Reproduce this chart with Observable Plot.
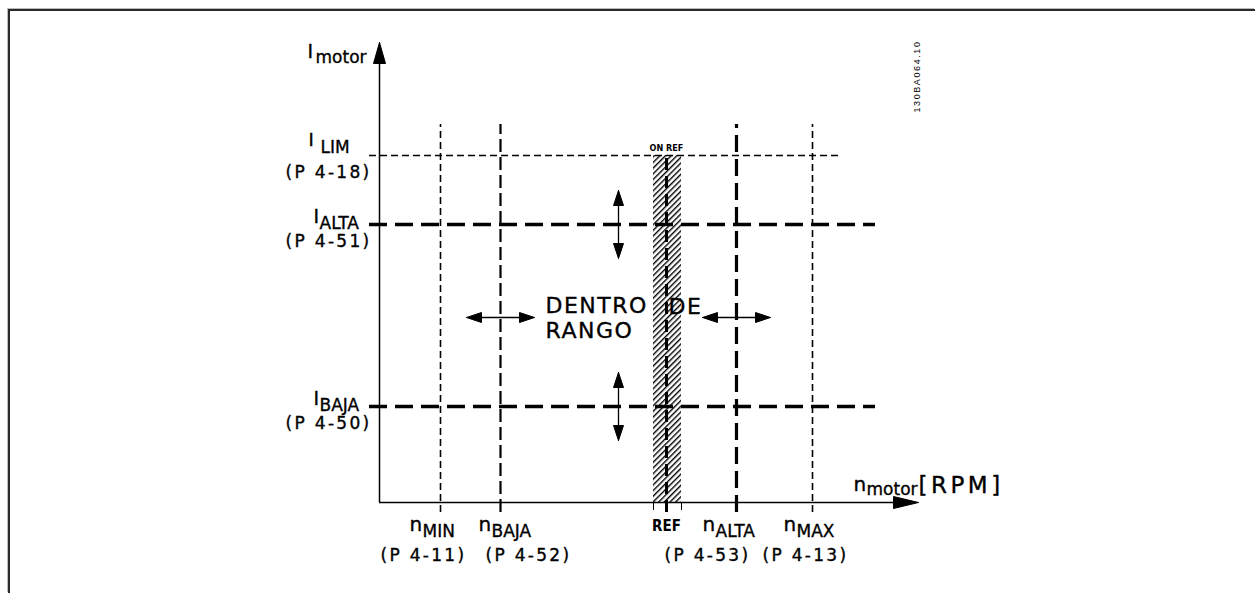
<!DOCTYPE html>
<html><head><meta charset="utf-8">
<script src="https://cdn.jsdelivr.net/npm/d3@7"></script>
<script src="https://cdn.jsdelivr.net/npm/@observablehq/plot@0.6"></script>
<style>
html,body{margin:0;padding:0;background:#fff;}
#wrap{position:relative;width:1255px;height:593px;overflow:hidden;background:#fff;}
#border{position:absolute;left:8px;top:9px;right:0;bottom:0;border-top:2px solid #2a2a2a;border-left:2px solid #2a2a2a;box-shadow:-1px -1px 0 #bbb;pointer-events:none;}
</style></head><body><div id="wrap"><div id="border"></div></div>
<script>
// ---------- data (diagram units, origin at the axes crossing) ----------
const speedNames  = ["MIN", "BAJA", "ALTA", "MAX"];
const speedParams = ["(P 4-11)", "(P 4-52)", "(P 4-53)", "(P 4-13)"];
const speedValues = [61, 121, 357, 433];

const currentNames  = ["LIM", "ALTA", "BAJA"];
const currentParams = ["(P 4-18)", "(P 4-51)", "(P 4-50)"];
const currentValues = [347, 278, 96];

const refValue = 287;
const refBand  = [274, 302];
const axisEnd  = {x: 539, y: 460};
const rangeWords = ["DENTRO\nRANGO", "DE"];
const drawingCode = "130BA064.10";

// ---------- layout ----------
const W = 1255, H = 593, ox = 379, oy = 502;
const speeds = speedNames.map((name, i) => ({name, param: speedParams[i], value: speedValues[i]}));
const currents = currentNames.map((name, i) => ({name, param: currentParams[i], value: currentValues[i]}));
const heavy = d => d.name === "BAJA" || d.name === "ALTA";
const nOff = {MIN: -31, BAJA: -22, ALTA: -34, MAX: -29};
const pOff = {MIN: -60, BAJA: -15, ALTA: -72, MAX: -50};

function head(id, tx, ty, ux, uy, len, hw) {
  const bx = tx - ux * len, by = ty - uy * len;
  return [{id, x: tx, y: ty}, {id, x: bx - uy * hw, y: by + ux * hw}, {id, x: bx + uy * hw, y: by - ux * hw}, {id, x: tx, y: ty}];
}
const hArrowY = 185, vArrowX = 239, half = 34, hl = 15, hw = 5;
const arrows = [
  ...speeds.filter(heavy).map(d => ({x1: d.value - half, x2: d.value + half, y1: hArrowY, y2: hArrowY, ux: 1, uy: 0})),
  ...currents.filter(heavy).map(d => ({x1: vArrowX, x2: vArrowX, y1: d.value - half, y2: d.value + half, ux: 0, uy: 1}))
];
const heads = [];
arrows.forEach((a, i) => {
  heads.push(...head("a" + i, a.x2, a.y2, a.ux, a.uy, hl, hw));
  heads.push(...head("b" + i, a.x1, a.y1, -a.ux, -a.uy, hl, hw));
});
heads.push(...head("ay", 0, axisEnd.y, 0, 1, 21, 6));
heads.push(...head("ax", axisEnd.x, 0, 1, 0, 25, 6));

const F = "'DejaVu Sans', sans-serif";
const FC = "'DejaVu Sans Condensed', 'DejaVu Sans', sans-serif";
const T = {textAnchor: "start", lineAnchor: "bottom", fontFamily: F, stroke: "#000", strokeWidth: 0.35, fill: "#000"};
const plot = Plot.plot({
  width: W, height: H, margin: 0,
  x: {domain: [-ox, W - ox], axis: null},
  y: {domain: [oy - H, oy], axis: null},
  style: {background: "transparent", color: "#000"},
  marks: [
    // hatched REF band
    Plot.rect([refBand], {x1: d => d[0], x2: d => d[1], y1: 0, y2: currentValues[0], fill: "url(#hatch)"}),
    Plot.ruleX(refBand, {y1: -8, y2: 0, strokeWidth: 1}),
    Plot.ruleX([refValue], {y1: -10, y2: currentValues[0], strokeWidth: 3, strokeDasharray: "12,6"}),
    // speed limits
    Plot.ruleX(speeds.filter(d => !heavy(d)), {x: "value", y1: -10, y2: 378, strokeWidth: 1.6, strokeDasharray: "7,4"}),
    Plot.ruleX(speeds.filter(d => d.name === "BAJA"), {x: "value", y1: -10, y2: 378, strokeWidth: 2.2, strokeDasharray: "13,5"}),
    Plot.ruleX(speeds.filter(d => d.name === "ALTA"), {x: "value", y1: -10, y2: 378, strokeWidth: 3.2, strokeDasharray: "17,7"}),
    // current limits
    Plot.ruleY(currents.filter(d => d.name === "LIM"), {y: "value", x1: -10, x2: 463, strokeWidth: 1.6, strokeDasharray: "7,4"}),
    Plot.ruleY(currents.filter(heavy), {y: "value", x1: -10, x2: 496, strokeWidth: 3.4, strokeDasharray: "18,8"}),
    // axes
    Plot.ruleY([0], {x1: 0, x2: axisEnd.x - 20, strokeWidth: 1.5}),
    Plot.ruleX([0], {y1: 0, y2: axisEnd.y - 18, strokeWidth: 1.5}),
    // double arrows
    Plot.link(arrows, {x1: d => d.x1 + d.ux * hl, x2: d => d.x2 - d.ux * hl, y1: d => d.y1 + d.uy * hl, y2: d => d.y2 - d.uy * hl, strokeWidth: 1.3}),
    Plot.line(heads, {x: "x", y: "y", z: "id", fill: "#000", stroke: "#000", strokeWidth: 1}),
    // axis titles
    Plot.text(["I"], {...T, x: -72, y: 445, text: d => d, fontSize: 19}),
    Plot.text(["motor"], {...T, x: -64, y: 440, text: d => d, fontSize: 17}),
    Plot.text(["n"], {...T, x: 474, y: 12, text: d => d, fontSize: 20}),
    Plot.text(["motor"], {...T, x: 487, y: 8, text: d => d, fontSize: 17}),
    Plot.text(["[RPM]"], {...T, x: 539, y: 10, text: d => d, fontSize: 23}),
    // current labels
    Plot.text(currents.filter(d => d.name === "LIM"), {...T, x: -71, y: "value", dy: -10, text: () => "I", fontSize: 18}),
    Plot.text(currents.filter(d => d.name === "LIM"), {...T, x: -59, y: "value", dy: -3, text: "name", fontSize: 17}),
    Plot.text(currents.filter(heavy), {...T, x: -66, y: "value", dy: -2, text: () => "I", fontSize: 19}),
    Plot.text(currents.filter(heavy), {...T, x: -60, y: "value", dy: 4, text: "name", fontSize: 17}),
    Plot.text(currents, {...T, x: -8, y: "value", dy: 22, text: "param", textAnchor: "end", fontSize: 17}),
    // speed labels
    Plot.text(speeds, {...T, x: d => d.value + nOff[d.name], y: 0, dy: 28, text: () => "n", fontSize: 20}),
    Plot.text(speeds, {...T, x: d => d.value + nOff[d.name] + 13, y: 0, dy: 34, text: "name", fontSize: 17}),
    Plot.text(speeds, {...T, x: d => d.value + pOff[d.name], y: 0, dy: 58, text: "param", fontSize: 17}),
    // REF labels
    Plot.text(["REF"], {...T, x: refValue, y: 0, dy: 28, text: d => d, textAnchor: "middle", fontSize: 15, fontWeight: "bold", fontFamily: FC, strokeWidth: 0}),
    Plot.text(["ON REF"], {...T, x: refValue, y: currentValues[0], dy: -5, text: d => d, textAnchor: "middle", fontSize: 9, fontWeight: "bold", fontFamily: FC, strokeWidth: 0}),
    // range text
    Plot.text([rangeWords[0]], {...T, x: 166, y: 165, text: d => d, lineHeight: 1.1, fontSize: 22}),
    Plot.text([rangeWords[1]], {...T, x: 289, y: 189, text: d => d, fontSize: 22}),
    // drawing code
    Plot.text([drawingCode], {x: 538, y: 426, text: d => d, rotate: -90, textAnchor: "middle", fontSize: 9, fontFamily: "'Liberation Sans', Arial, sans-serif"})
  ]
});
const svg = d3.select(plot);
// letter spacing by text content
const spacing = new Map([...speedParams, ...currentParams].map(s => [s, 2.3]));
spacing.set("[RPM]", 3.5); spacing.set(drawingCode, 1.6); spacing.set("DE", 1.5);
spacing.set(rangeWords[0].replace("\n", ""), 1.5);
svg.selectAll("text").each(function () {
  const ls = spacing.get(this.textContent);
  if (ls != null) this.style.letterSpacing = ls + "px";
});
const defs = svg.insert("defs", ":first-child");
const pat = defs.append("pattern").attr("id", "hatch").attr("patternUnits", "userSpaceOnUse")
  .attr("width", 4).attr("height", 4).attr("patternTransform", "rotate(45)");
pat.append("rect").attr("width", 4).attr("height", 4).attr("fill", "#fff");
pat.append("line").attr("x1", 0.7).attr("y1", 0).attr("x2", 0.7).attr("y2", 4).attr("stroke", "#000").attr("stroke-width", 1.4);
plot.style.position = "absolute";
plot.style.left = "0px";
plot.style.top = "0px";
document.getElementById("wrap").insertBefore(plot, document.getElementById("border"));
</script>
</body></html>
